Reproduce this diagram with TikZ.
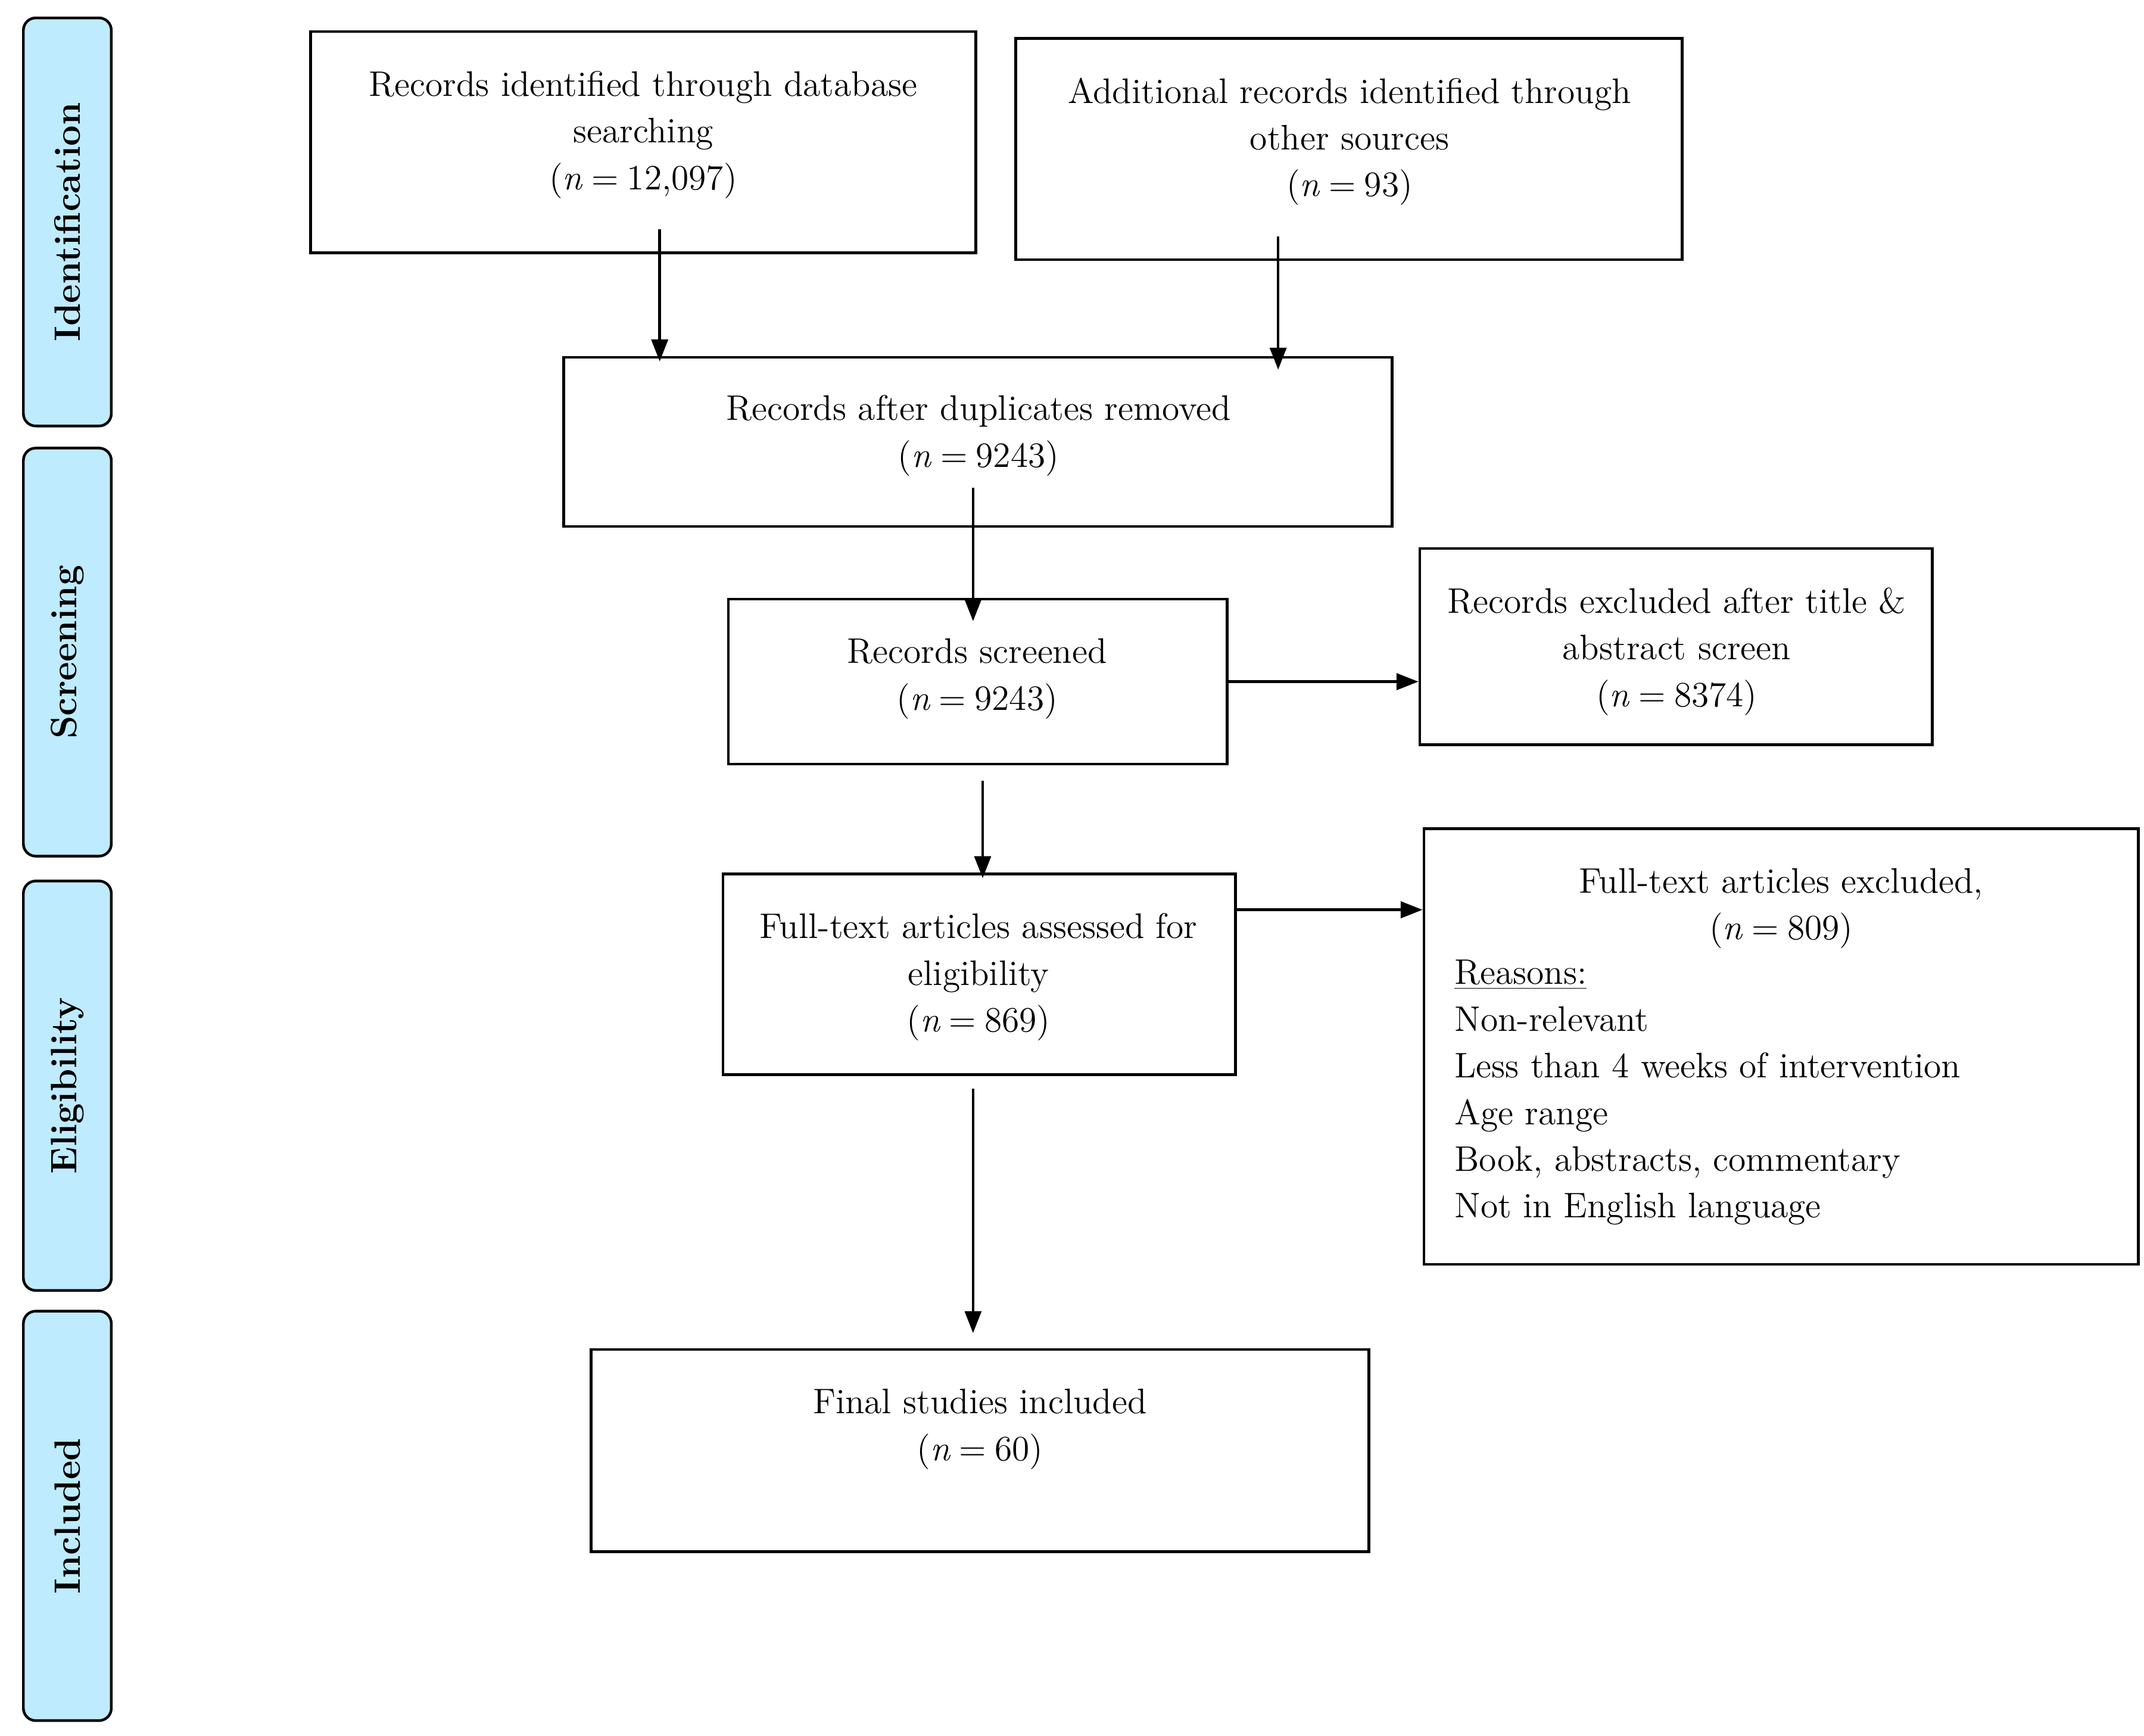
\documentclass[tikz,border=0pt]{standalone}
\usetikzlibrary{arrows.meta}
\definecolor{barblue}{RGB}{190,235,253}
\newcommand\myN[1]{(\textit{n}\hspace{0.24em}=\hspace{0.24em}#1)}
\begin{document}
\begin{tikzpicture}[x=0.02cm,y=-0.02cm,
  box/.style={draw,line width=1.1pt,inner sep=0pt},
  bar/.style={draw,line width=1.1pt,fill=barblue,rounded corners=0.18cm,minimum width=1.28cm,inner sep=0pt},
  bartext/.style={rotate=90,font=\fontsize{15.2}{18}\selectfont\bfseries},
  txt/.style={inner sep=0pt,align=center,font=\fontsize{14.7}{19.35}\selectfont},
  ltxt/.style={inner sep=0pt,align=left,font=\fontsize{14.7}{19.35}\selectfont},
  arr/.style={line width=1.1pt,-{Triangle[length=0.32cm,width=0.24cm]}}]
\useasboundingbox (0,0) rectangle (1560,1263);
% side bars
\node[bar,minimum height=5.94cm] (bid) at (49,161.5) {};
\node[bartext] (tid) at (bid.center) {Identification};
\node[bar,minimum height=5.94cm] (bsc) at (49,474.5) {};
\node[bartext] (tsc) at (bsc.center) {Screening};
\node[bar,minimum height=5.96cm] (bel) at (49,790) {};
\node[bartext] (tel) at (bel.center) {Eligibility};
\node[bar,minimum height=5.96cm] (bin) at (49,1103) {};
\node[bartext] (tin) at (bin.center) {Included};
% boxes
\node[box,minimum width=9.68cm,minimum height=3.22cm] (db) at (468,103.5) {};
\node[txt] (dbt) at (468,98) {Records identified through database\\searching\\\myN{12,097}};
\node[box,minimum width=9.70cm,minimum height=3.22cm] (oth) at (981.5,108.5) {};
\node[txt] (otht) at (982,103) {Additional records identified through\\other sources\\\myN{93}};
\node[box,minimum width=12.06cm,minimum height=2.46cm] (dup) at (711.5,321.5) {};
\node[txt] (dupt) at (712,317) {Records after duplicates removed\\\myN{9243}};
\node[box,minimum width=7.26cm,minimum height=2.40cm] (scr) at (711.5,496) {};
\node[txt] (scrt) at (711,494) {Records screened\\\myN{9243}};
\node[box,minimum width=7.46cm,minimum height=2.86cm] (exa) at (1219.5,470.5) {};
\node[txt] (exat) at (1220,474) {Records excluded after title \&\\abstract screen\\\myN{8374}};
\node[box,minimum width=7.46cm,minimum height=2.92cm] (fta) at (712.5,709) {};
\node[txt] (ftat) at (712,711) {Full-text articles assessed for\\eligibility\\\myN{869}};
\node[box,minimum width=10.40cm,minimum height=6.34cm] (exf) at (1296,761.5) {};
\node[txt] (exft) at (1296,661) {Full-text articles excluded,\\\myN{809}};
\node[ltxt,anchor=west] (exfr) at (1058,795) {\underline{Reasons:}\\Non-relevant\\Less than 4 weeks of intervention\\Age range\\Book, abstracts, commentary\\Not in English language};
\node[box,minimum width=11.32cm,minimum height=2.94cm] (fin) at (713,1055.5) {};
\node[txt] (fint) at (713,1040) {Final studies included\\\myN{60}};
% arrow ends
\coordinate (a1s) at (480,167); \coordinate (a1e) at (480,263);
\coordinate (a2s) at (930,172); \coordinate (a2e) at (930,269);
\coordinate (a3s) at (708,355); \coordinate (a3e) at (708,452);
\coordinate (a4s) at (715,568); \coordinate (a4e) at (715,639);
\coordinate (a5s) at (708,792); \coordinate (a5e) at (708,970);
\coordinate (a7s) at (899,662);
% arrows
\draw[arr] (a1s) -- (a1e);
\draw[arr] (a2s) -- (a2e);
\draw[arr] (a3s) -- (a3e);
\draw[arr] (a4s) -- (a4e);
\draw[arr] (a5s) -- (a5e);
\draw[arr] (scr.east) -- (scr.east -| exa.west);
\draw[arr] (a7s) -- (a7s -| exf.west);
\end{tikzpicture}
\end{document}
